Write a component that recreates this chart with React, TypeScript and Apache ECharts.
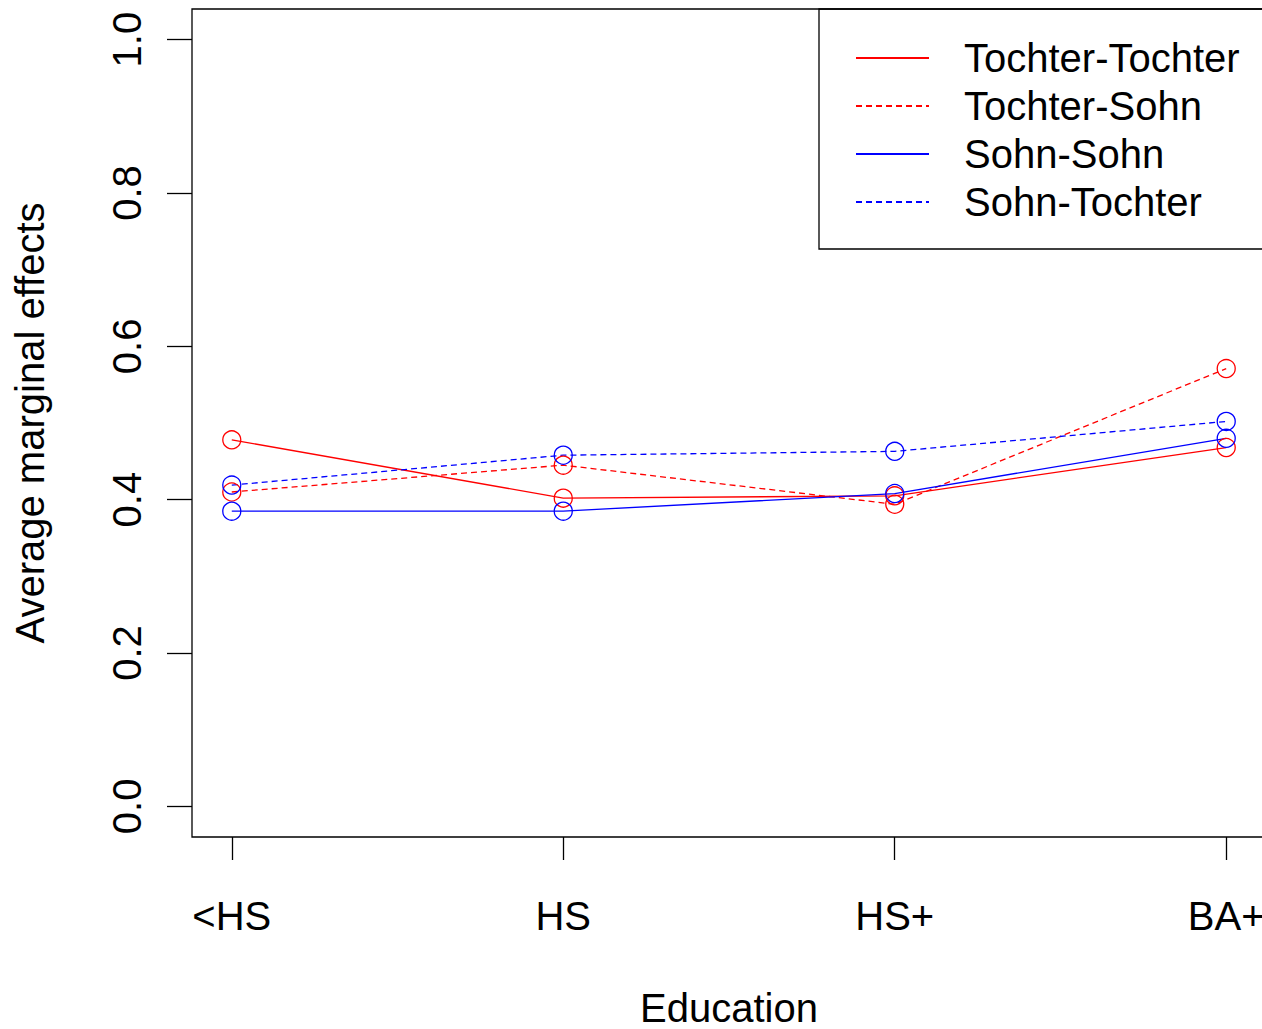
import React, { useEffect, useRef } from 'react';
import * as echarts from 'echarts';

const categories = ['<HS', 'HS', 'HS+', 'BA+'];
const tochterTochter = [0.478, 0.402, 0.405, 0.468];
const tochterSohn = [0.410, 0.445, 0.394, 0.571];
const sohnSohn = [0.385, 0.385, 0.408, 0.480];
const sohnTochter = [0.419, 0.458, 0.463, 0.502];
const seriesNames = ['Tochter-Tochter', 'Tochter-Sohn', 'Sohn-Sohn', 'Sohn-Tochter'];
const yTicks = [0, 0.2, 0.4, 0.6, 0.8, 1.0];
const xTicks = categories.map((_, i) => i + 1);

export default function App() {
  const ref = useRef<HTMLDivElement>(null);
  useEffect(() => {
    const chart = echarts.init(ref.current!, null, { renderer: 'svg' });
    const font = '"Liberation Sans", Arial, sans-serif';
    const mk = (name: string, vals: number[], color: string, dashed: boolean) => ({
      name,
      type: 'line',
      data: vals.map((v, i) => [i + 1, v]),
      symbol: 'circle',
      symbolSize: 18,
      lineStyle: { color, width: 1.3, type: dashed ? [6, 4] : 'solid' },
      itemStyle: { color: 'rgba(0,0,0,0)', borderColor: color, borderWidth: 1.3 },
      emphasis: { disabled: true },
    });
    chart.setOption({
      animation: false,
      backgroundColor: '#fff',
      textStyle: { fontFamily: font, color: '#000' },
      grid: {
        left: 192, top: 9, width: 1074, height: 828,
        outerBoundsMode: 'none', containLabel: false,
        show: true, borderColor: '#000', borderWidth: 1.3, backgroundColor: 'transparent',
      },
      xAxis: {
        type: 'value', min: 0.88, max: 4.12,
        splitLine: { show: false },
        axisLine: { show: false, onZero: false },
        axisTick: { show: true, customValues: xTicks, length: 23, lineStyle: { color: '#000', width: 1.3 } },
        axisLabel: {
          customValues: xTicks,
          formatter: (v: number) => categories[Math.round(v) - 1] ?? '',
          fontSize: 40, color: '#000', margin: 59, fontFamily: font,
        },
        name: 'Education', nameLocation: 'middle', nameGap: 151,
        nameTextStyle: { fontSize: 40, color: '#000', fontFamily: font },
      },
      yAxis: {
        type: 'value', min: -0.04, max: 1.04,
        splitLine: { show: false },
        axisLine: { show: false, onZero: false },
        axisTick: { show: true, customValues: yTicks, length: 25, lineStyle: { color: '#000', width: 1.3 } },
        axisLabel: {
          customValues: yTicks,
          formatter: (v: number) => v.toFixed(1),
          rotate: 90, fontSize: 40, color: '#000', margin: 45, fontFamily: font,
        },
        name: 'Average marginal effects', nameLocation: 'middle', nameGap: 142,
        nameTextStyle: { fontSize: 40, color: '#000', fontFamily: font },
      },
      legend: {
        orient: 'vertical', left: 855, top: 38, padding: 0,
        itemWidth: 73, itemHeight: 40, itemGap: 8,
        data: seriesNames,
        itemStyle: { opacity: 0 },
        textStyle: { fontSize: 40, color: '#000', fontFamily: font, padding: [0, 0, 0, 30] },
        selectedMode: false,
      },
      graphic: [
        {
          type: 'rect', z: 0,
          shape: { x: 819, y: 9, width: 600, height: 240 },
          style: { fill: 'none', stroke: '#000', lineWidth: 1.3 },
        },
      ],
      series: [
        mk(seriesNames[0], tochterTochter, '#ff0000', false),
        mk(seriesNames[1], tochterSohn, '#ff0000', true),
        mk(seriesNames[2], sohnSohn, '#0000ff', false),
        mk(seriesNames[3], sohnTochter, '#0000ff', true),
      ],
    });
    return () => chart.dispose();
  }, []);
  return (
    <div style={{ position: 'fixed', left: 0, top: 0, width: 1262, height: 1029, overflow: 'hidden', background: '#fff' }}>
      <div ref={ref} style={{ width: 1270, height: 1029 }} />
    </div>
  );
}
